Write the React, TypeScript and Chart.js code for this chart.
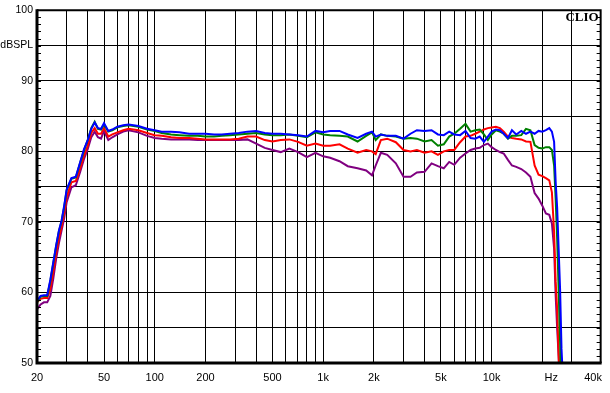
import React, { useEffect, useRef } from "react";
import { Chart, registerables } from "chart.js";
Chart.register(...registerables);

// Frequencies (Hz)
const freqs = [
  20, 21, 22, 23, 24, 25, 26, 27, 28, 29, 30, 32, 34, 36, 38, 40, 42, 44, 46, 48, 50, 53, 56, 60, 65, 70, 80, 90, 100, 110,
  125, 140, 160, 180, 200, 225, 250, 280, 315, 355, 400, 450, 500, 560, 630, 710, 800, 900, 1000,
  1100, 1250, 1400, 1600, 1800, 1950, 2050, 2200, 2400, 2700, 3000, 3300, 3600, 4000, 4400, 4800, 5200, 5600, 6000,
  6500, 7000, 7500, 8000, 8500, 9000, 9500, 10000, 10600, 11200, 11800, 12500, 13200, 14000, 15000, 16000, 17000, 18000, 19000, 20000, 21000, 22000, 22800, 23500, 24000, 24500, 25000, 25500, 26000, 27000,
];

const blueSeries = [
  58.8, 59.5, 59.6, 59.6, 61.8, 64.3, 66.7, 68.8, 70.2, 72.3, 74.6, 76.2, 76.4, 78.4, 80.3, 81.6, 83.2, 84.1, 83.3, 83.2, 84.0, 82.9, 83.1, 83.5, 83.7, 83.8, 83.6, 83.2, 83.0, 82.8,
  82.8, 82.7, 82.5, 82.5, 82.5, 82.4, 82.4, 82.5, 82.6, 82.8, 82.9, 82.6, 82.5, 82.5, 82.4, 82.3, 82.1, 82.9, 82.7,
  82.9, 82.9, 82.4, 81.9, 82.5, 82.8, 82.1, 82.4, 82.2, 82.2, 81.8, 82.5, 83.0, 82.9, 83.0, 82.4, 82.3, 82.8, 82.4,
  82.3, 82.9, 81.9, 81.8, 82.1, 81.35, 82.1, 82.8, 83.1, 83.0, 82.5, 81.9, 83.0, 82.4, 82.9, 82.5, 82.8, 82.5, 82.9, 82.8, 83.0, 83.3, 82.8, 81.35, 75.7, 72.0, 66.2, 60.5, 52.0, 44,
];

const greenSeries = [
  58.6, 59.4, 59.5, 59.5, 61.6, 64.2, 66.6, 68.7, 70.1, 72.1, 74.5, 76.1, 76.3, 78.3, 80.1, 81.6, 83.3, 84.2, 83.2, 83.1, 83.8, 82.8, 83.0, 83.4, 83.6, 83.7, 83.5, 83.1, 82.9, 82.6,
  82.4, 82.3, 82.2, 82.2, 82.1, 82.1, 82.2, 82.3, 82.4, 82.5, 82.6, 82.4, 82.3, 82.3, 82.4, 82.2, 82.0, 82.7, 82.4,
  82.3, 82.2, 82.1, 81.4, 82.2, 82.7, 81.6, 82.4, 82.2, 82.1, 81.8, 81.9, 81.8, 81.4, 81.6, 80.8, 81.0, 82.1, 82.5,
  83.2, 83.9, 82.8, 83.0, 83.1, 82.4, 81.6, 82.4, 83.0, 82.8, 82.5, 81.8, 82.2, 82.2, 82.3, 83.2, 83.0, 80.9, 80.5, 80.4, 80.6, 80.6, 80.2, 78.0, 73.3, 67.6, 60.5, 53.0, 46, 44,
];

const redSeries = [
  58.6, 59.1, 59.2, 59.2, 60.5, 63.0, 65.6, 67.8, 69.3, 71.3, 73.5, 75.6, 75.8, 77.5, 79.4, 80.8, 82.6, 83.3, 82.5, 82.5, 83.3, 82.1, 82.4, 82.7, 83.0, 83.2, 83.0, 82.6, 82.3, 82.2,
  82.0, 81.9, 81.9, 81.8, 81.7, 81.7, 81.7, 81.7, 81.8, 82.1, 82.1, 81.6, 81.4, 81.6, 81.7, 81.35, 80.8, 81.1, 80.8,
  80.8, 81.0, 80.4, 79.8, 80.2, 80.0, 79.6, 81.6, 81.8, 81.3, 80.2, 80.0, 80.2, 79.8, 80.0, 79.5, 80.0, 80.2, 80.2,
  81.3, 82.1, 82.2, 82.5, 82.8, 83.1, 83.3, 83.4, 83.5, 83.3, 82.8, 82.1, 81.9, 81.8, 81.7, 81.4, 81.35, 78.0, 76.7, 76.5, 76.2, 75.9, 74.2, 68.6, 61.5, 57.7, 51.0, 46, 44, 44,
];

const purpleSeries = [
  57.6, 58.3, 58.6, 58.6, 59.5, 62.0, 64.8, 67.0, 68.8, 70.5, 72.8, 74.9, 75.2, 77.0, 78.9, 80.3, 82.0, 82.8, 82.0, 81.8, 82.9, 81.6, 82.0, 82.4, 82.8, 83.0, 82.7, 82.2, 81.9, 81.8,
  81.7, 81.7, 81.7, 81.6, 81.6, 81.6, 81.6, 81.6, 81.6, 81.7, 81.1, 80.5, 80.2, 79.9, 80.4, 79.9, 79.2, 79.8, 79.3,
  79.1, 78.6, 77.9, 77.6, 77.3, 76.6, 78.0, 79.8, 79.5, 78.3, 76.4, 76.4, 77.0, 77.1, 78.3, 77.9, 77.6, 78.5, 78.1,
  79.1, 79.7, 80.2, 80.4, 80.5, 80.9, 81.1, 80.6, 80.2, 79.9, 79.7, 78.8, 78.0, 77.8, 77.5, 77.0, 76.4, 74.1, 73.3, 72.3, 71.2, 71.0, 69.8, 66.2, 59.6, 54.9, 51.0, 46, 44, 44,
];

const xTickValues = [
  20, 30, 40, 50, 60, 70, 80, 90, 100, 200, 300, 400, 500, 600, 700, 800, 900, 1000,
  2000, 3000, 4000, 5000, 6000, 7000, 8000, 9000, 10000, 20000, 22600, 30000, 40000,
];
const xTickLabels: Record<number, string> = {
  20: "20", 50: "50", 100: "100", 200: "200", 500: "500", 1000: "1k", 2000: "2k",
  5000: "5k", 10000: "10k", 22600: "Hz", 40000: "40k",
};
const xNoGrid = [20, 22600, 40000];
const yTickLabels: Record<number, string> = {
  100: "100", 95: "dBSPL", 90: "90", 80: "80", 70: "70", 60: "60", 50: "50",
};

const framePlugin = {
  id: "clioFrame",
  afterDraw(chart: any) {
    const { ctx, chartArea } = chart;
    const { left, right, top, bottom } = chartArea;
    const y = chart.scales.y;
    ctx.save();
    ctx.strokeStyle = "#000";
    ctx.lineWidth = 1;
    ctx.beginPath();
    for (let v = 51; v < 100; v++) {
      const py = Math.round(y.getPixelForValue(v)) + 0.5;
      ctx.moveTo(left, py);
      ctx.lineTo(left + 4, py);
      ctx.moveTo(right - 4, py);
      ctx.lineTo(right, py);
    }
    ctx.stroke();
    ctx.lineWidth = 2;
    ctx.beginPath();
    ctx.moveTo(left, top);
    ctx.lineTo(right, top);
    ctx.lineTo(right, bottom);
    ctx.stroke();
    ctx.lineWidth = 3;
    ctx.beginPath();
    ctx.moveTo(left, top - 1);
    ctx.lineTo(left, bottom);
    ctx.lineTo(right + 1, bottom);
    ctx.stroke();
    ctx.fillStyle = "#000";
    ctx.font = "bold 13px 'Liberation Serif', 'DejaVu Serif', serif";
    ctx.textAlign = "right";
    ctx.textBaseline = "alphabetic";
    ctx.fillText("CLIO", right - 2, top + 11);
    ctx.restore();
  },
};

export default function App() {
  const ref = useRef<HTMLCanvasElement | null>(null);
  useEffect(() => {
    if (!ref.current) return;
    const mk = (vals: number[]) => freqs.map((f, i) => ({ x: f, y: vals[i] }));
    const common = { pointRadius: 0, borderWidth: 2, tension: 0, fill: false };
    const chart = new Chart(ref.current, {
      type: "line",
      data: {
        datasets: [
          { ...common, label: "blue", data: mk(blueSeries), borderColor: "#0000ff" },
          { ...common, label: "green", data: mk(greenSeries), borderColor: "#008000" },
          { ...common, label: "red", data: mk(redSeries), borderColor: "#ff0000" },
          { ...common, label: "purple", data: mk(purpleSeries), borderColor: "#800080" },
        ],
      },
      options: {
        animation: false,
        responsive: false,
        maintainAspectRatio: false,
        layout: { padding: { top: 10, right: 8.5, left: 0, bottom: 0 } },
        plugins: { legend: { display: false }, tooltip: { enabled: false } },
        scales: {
          x: {
            type: "logarithmic",
            min: 20,
            max: 44400,
            afterBuildTicks: (scale: any) => {
              scale.ticks = xTickValues.map((v) => ({ value: v }));
            },
            afterFit: (scale: any) => {
              scale.height = 30;
            },
            border: { display: false },
            grid: {
              drawTicks: false,
              lineWidth: 1,
              color: (c: any) => (c.tick && xNoGrid.includes(c.tick.value) ? "rgba(0,0,0,0)" : "#000"),
            },
            ticks: {
              autoSkip: false,
              maxRotation: 0,
              minRotation: 0,
              padding: 8,
              color: "#000",
              font: { family: "'Liberation Sans', Arial, sans-serif", size: 11 },
              callback: (v: any) => xTickLabels[Number(v)] ?? "",
            },
          },
          y: {
            type: "linear",
            min: 50,
            max: 100,
            afterFit: (scale: any) => {
              scale.width = 37;
            },
            border: { display: false },
            grid: { drawTicks: false, color: "#000", lineWidth: 1 },
            ticks: {
              stepSize: 5,
              padding: 4,
              color: "#000",
              font: { family: "'Liberation Sans', Arial, sans-serif", size: 10.5 },
              callback: (v: any) => yTickLabels[Number(v)] ?? "",
            },
          },
        },
      },
      plugins: [framePlugin],
    });
    return () => chart.destroy();
  }, []);
  return (
    <div style={{ position: "fixed", left: 0, top: 0, width: 610, height: 393, background: "#fff" }}>
      <canvas ref={ref} width={610} height={393} style={{ display: "block" }} />
    </div>
  );
}
